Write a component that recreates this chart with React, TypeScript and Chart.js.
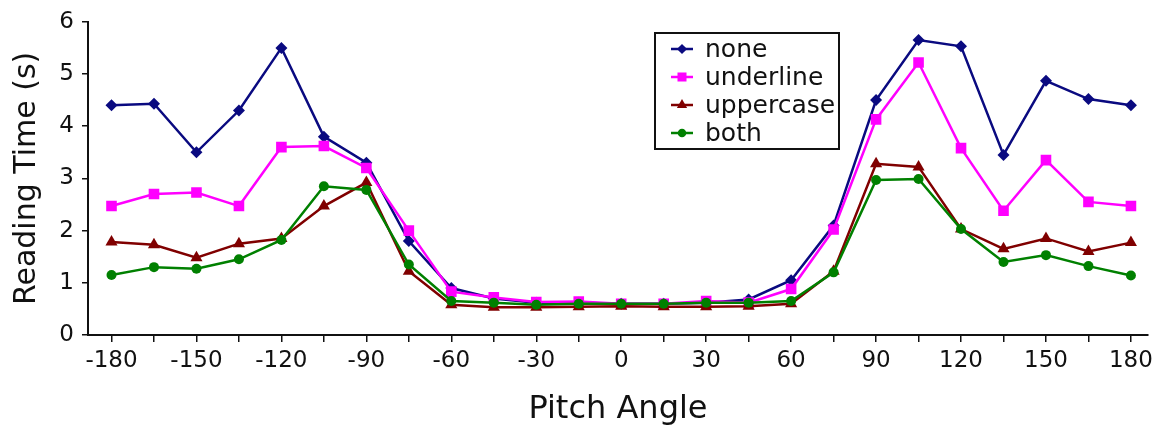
import React, { useEffect, useRef } from "react";
import { Chart, registerables } from "chart.js";

Chart.register(...registerables);

const angles = [-180, -165, -150, -135, -120, -105, -90, -75, -60, -45, -30, -15, 0, 15, 30, 45, 60, 75, 90, 105, 120, 135, 150, 165, 180];
const xTickLabels = ["-180", "-150", "-120", "-90", "-60", "-30", "0", "30", "60", "90", "120", "150", "180"];
const yTicks = [0, 1, 2, 3, 4, 5, 6];

const noneSeries = [4.4, 4.43, 3.5, 4.3, 5.5, 3.8, 3.3, 1.8, 0.9, 0.7, 0.62, 0.62, 0.6, 0.6, 0.62, 0.68, 1.05, 2.1, 4.5, 5.65, 5.53, 3.45, 4.87, 4.52, 4.4];
const underlineSeries = [2.47, 2.7, 2.73, 2.47, 3.6, 3.62, 3.2, 2.0, 0.83, 0.72, 0.63, 0.64, 0.6, 0.6, 0.65, 0.62, 0.88, 2.02, 4.13, 5.22, 3.58, 2.38, 3.35, 2.55, 2.47];
const uppercaseSeries = [1.78, 1.73, 1.48, 1.75, 1.85, 2.47, 2.92, 1.22, 0.58, 0.53, 0.53, 0.54, 0.55, 0.54, 0.54, 0.55, 0.6, 1.22, 3.28, 3.22, 2.03, 1.65, 1.85, 1.6, 1.77];
const bothSeries = [1.15, 1.3, 1.27, 1.45, 1.82, 2.85, 2.78, 1.35, 0.65, 0.62, 0.58, 0.6, 0.6, 0.6, 0.62, 0.62, 0.65, 1.2, 2.97, 2.99, 2.03, 1.4, 1.53, 1.32, 1.14];

const seriesNames = ["none", "underline", "uppercase", "both"];
const seriesColors = ["#0a0a80", "#ff00ff", "#800000", "#008000"];
const seriesStyles = ["rectRot", "rect", "triangle", "circle"];
const seriesRadii = [6, 7.5, 7, 5];

const FONT = "'DejaVu Sans', sans-serif";

function drawMarker(ctx: CanvasRenderingContext2D, style: string, x: number, y: number, r: number) {
  ctx.beginPath();
  if (style === "rectRot") {
    ctx.moveTo(x, y - r);
    ctx.lineTo(x + r, y);
    ctx.lineTo(x, y + r);
    ctx.lineTo(x - r, y);
    ctx.closePath();
  } else if (style === "rect") {
    const s = r * Math.SQRT1_2;
    ctx.rect(x - s, y - s, 2 * s, 2 * s);
  } else if (style === "triangle") {
    ctx.moveTo(x, y - r);
    ctx.lineTo(x + r * Math.sin(Math.PI / 3), y + r * 0.5);
    ctx.lineTo(x - r * Math.sin(Math.PI / 3), y + r * 0.5);
    ctx.closePath();
  } else {
    ctx.arc(x, y, r, 0, Math.PI * 2);
  }
  ctx.fill();
}

const boxLegend = {
  id: "boxLegend",
  afterDraw(chart: any) {
    const ctx = chart.ctx as CanvasRenderingContext2D;
    const bx = 655, by = 33, bw = 184, bh = 116;
    ctx.save();
    ctx.fillStyle = "#ffffff";
    ctx.fillRect(bx, by, bw, bh);
    ctx.strokeStyle = "#111111";
    ctx.lineWidth = 2;
    ctx.strokeRect(bx, by, bw, bh);
    ctx.font = `25px ${FONT}`;
    ctx.textBaseline = "middle";
    ctx.textAlign = "left";
    seriesNames.forEach((name, i) => {
      const y = by + 16 + i * 28;
      ctx.strokeStyle = seriesColors[i];
      ctx.fillStyle = seriesColors[i];
      ctx.lineWidth = 2.5;
      ctx.beginPath();
      ctx.moveTo(bx + 16, y);
      ctx.lineTo(bx + 38, y);
      ctx.stroke();
      drawMarker(ctx, seriesStyles[i], bx + 27, y, seriesRadii[i] * 0.85);
      ctx.fillStyle = "#111111";
      ctx.fillText(name, bx + 50, y + 1);
    });
    ctx.restore();
  },
};

export default function App() {
  const canvasRef = useRef<HTMLCanvasElement | null>(null);

  useEffect(() => {
    document.body.style.margin = "0";
    const canvas = canvasRef.current;
    if (!canvas) return;
    const allSeries = [noneSeries, underlineSeries, uppercaseSeries, bothSeries];
    const chart = new Chart(canvas, {
      type: "line",
      data: {
        datasets: allSeries.map((vals, i) => ({
          label: seriesNames[i],
          data: vals.map((v, j) => ({ x: angles[j], y: v })),
          borderColor: seriesColors[i],
          backgroundColor: seriesColors[i],
          pointBackgroundColor: seriesColors[i],
          pointBorderColor: seriesColors[i],
          pointStyle: seriesStyles[i] as any,
          pointRadius: seriesRadii[i],
          pointBorderWidth: 0,
          borderWidth: 2.5,
          tension: 0,
          fill: false,
          order: 3 - i,
        })),
      },
      options: {
        animation: false,
        responsive: false,
        layout: { padding: { top: 20, right: 6, bottom: 0, left: 0 } },
        plugins: {
          legend: { display: false },
          tooltip: { enabled: false },
        },
        scales: {
          x: {
            type: "linear",
            min: -188.3,
            max: 186,
            afterBuildTicks: (scale: any) => {
              scale.ticks = angles.map((v) => ({ value: v }));
            },
            afterFit: (scale: any) => {
              scale.height = 97;
            },
            border: { display: true, color: "#111111", width: 2 },
            grid: { drawOnChartArea: false, drawTicks: true, tickLength: 7, color: "#111111", lineWidth: 1.5 },
            ticks: {
              autoSkip: false,
              maxRotation: 0,
              padding: 5,
              color: "#111111",
              font: { family: FONT, size: 23 },
              callback: (value: any) => {
                const s = String(value);
                return xTickLabels.includes(s) ? s : "";
              },
            },
            title: {
              display: true,
              text: "Pitch Angle",
              color: "#111111",
              font: { family: FONT, size: 32, lineHeight: 1.2 },
              padding: { top: 0, bottom: 3 },
            },
          },
          y: {
            type: "linear",
            min: 0,
            max: 6,
            afterBuildTicks: (scale: any) => {
              scale.ticks = yTicks.map((v) => ({ value: v }));
            },
            afterFit: (scale: any) => {
              scale.width = 88;
            },
            border: { display: true, color: "#111111", width: 2 },
            grid: { drawOnChartArea: false, drawTicks: true, tickLength: 6, color: "#111111", lineWidth: 1.5 },
            ticks: {
              padding: 8,
              color: "#111111",
              font: { family: FONT, size: 23 },
            },
            title: {
              display: true,
              text: "Reading Time (s)",
              color: "#111111",
              font: { family: FONT, size: 30, lineHeight: 1.2 },
              padding: { top: 9, bottom: 0 },
            },
          },
        },
      },
      plugins: [boxLegend],
    });
    return () => chart.destroy();
  }, []);

  return (
    <div style={{ position: "absolute", left: 0, top: 0, width: 1158, height: 432 }}>
      <canvas ref={canvasRef} width={1158} height={432} style={{ display: "block", width: 1158, height: 432 }} />
    </div>
  );
}
